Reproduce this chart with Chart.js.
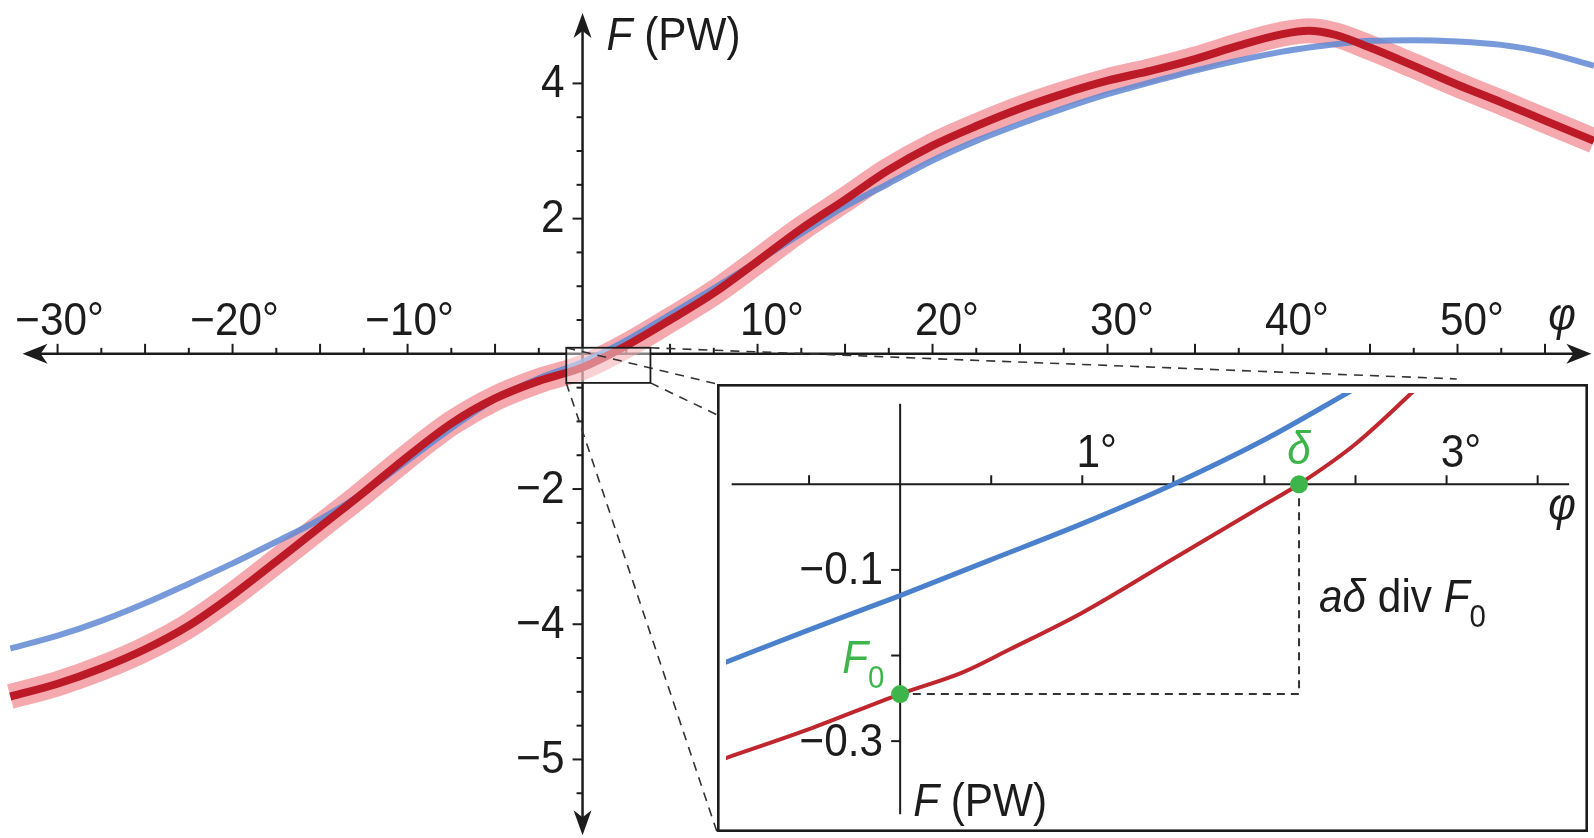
<!DOCTYPE html>
<html>
<head>
<meta charset="utf-8">
<script src="https://cdn.jsdelivr.net/npm/chart.js@4.4.1/dist/chart.umd.min.js"></script>
<style>
    html, body { margin: 0; padding: 0; background: #fff; overflow: hidden; }
    #main { position: absolute; left: 0; top: 0; width: 1594px; height: 838px; }
    #inset { position: absolute; left: 717px; top: 384px; width: 871px; height: 448px; }
</style>
</head>
<body>
<div id="main"><canvas id="main-chart" width="1594" height="838"></canvas></div>
<div id="inset"><canvas id="inset-chart" width="871" height="448"></canvas></div>
<script>
// Main panel: phi (degrees) vs F (PW)
const mainPhi = [-32.7, -30, -27.5, -25, -22.5, -20, -17.5, -15, -12.5, -10, -7.5, -5, -2.5, 0,
    2.5, 5, 7.5, 10, 12.5, 15, 17.5, 20, 22.5, 25, 27.5, 30, 32.5, 35, 37.5, 40, 41.5, 43,
    45, 47.5, 50, 52.5, 55, 57.8];
const redMain = [-5.07, -4.88, -4.65, -4.37, -4.02, -3.57, -3.07, -2.56, -2.05, -1.52, -1.03, -0.66, -0.40, -0.20,
    0.12, 0.50, 0.90, 1.37, 1.85, 2.28, 2.72, 3.08, 3.37, 3.63, 3.85, 4.04, 4.19, 4.36, 4.56, 4.73, 4.78, 4.72,
    4.53, 4.26, 3.98, 3.72, 3.45, 3.15];
const blueMain = [-4.36, -4.17, -3.95, -3.69, -3.40, -3.10, -2.78, -2.45, -2.05, -1.58, -1.10, -0.67, -0.36, -0.12,
    0.20, 0.58, 0.97, 1.37, 1.78, 2.18, 2.52, 2.86, 3.15, 3.40, 3.63, 3.84, 4.02, 4.19, 4.34, 4.47, 4.53, 4.58,
    4.63, 4.64, 4.62, 4.57, 4.46, 4.26];

const mainXLabels = [-30, -20, -10, 10, 20, 30, 40, 50];
const mainYLabelValues = [4, 2, -2, -4, -6];
const mainYLabelTexts = ['4', '2', '\u22122', '\u22124', '\u22125'];
const zoomBoxPhi = [-0.93, 3.88];
const zoomBoxF = [0.09, -0.43];

// Inset panel
const insetBluePhi = [-0.96, -0.5, 0, 0.5, 1.0, 1.5, 2.0, 2.5];
const insetBlue = [-0.208, -0.170, -0.130, -0.088, -0.046, 0.0, 0.052, 0.112];
const insetRedPhi = [-0.96, -0.5, 0, 0.35, 0.6, 1.0, 1.5, 2.0, 2.19, 2.5, 2.9];
const insetRed = [-0.320, -0.286, -0.245, -0.219, -0.193, -0.150, -0.087, -0.024, 0.0, 0.047, 0.125];
const markerPhi = [0, 2.19];
const markerF = [-0.245, 0];
const guidePhi = [2.19, 2.19, 0];
const guideF = [0, -0.245, -0.245];
const insetXLabels = [1, 3];
const insetYLabels = [-0.1, -0.3];

const FONT = '"Liberation Sans", Arial, Helvetica, sans-serif';
const FS = 46;     // font size
const HS = 0.92;   // horizontal squeeze of the lettering
const INK = '#1c1c1c';
const GREEN = '#3db54a';

function font(size, italic) {
    return (italic ? 'italic ' : '') + size + 'px ' + FONT;
}

function toPoints(xs, ys) {
    return xs.map((x, i) => ({ x: x, y: ys[i] }));
}

function textW(ctx, t) {
    return ctx.measureText(t).width * HS;
}

// fillText with the narrow lettering of the original
function fillT(ctx, t, x, y, align) {
    const w = textW(ctx, t);
    let sx = x;
    if (align === 'right') sx = x - w;
    else if (align === 'center') sx = x - w / 2;
    ctx.save();
    ctx.translate(sx, y);
    ctx.scale(HS, 1);
    ctx.textAlign = 'left';
    ctx.textBaseline = 'alphabetic';
    ctx.fillText(t, 0, 0);
    ctx.restore();
}

// Draw a sequence of text runs (mixed italic / subscript)
function drawRuns(ctx, x, y, runs, color) {
    ctx.fillStyle = color;
    let cx = x;
    runs.forEach(r => {
        ctx.font = font(r.size || FS, r.italic);
        fillT(ctx, r.t, cx, y + (r.dy || 0), 'left');
        cx += textW(ctx, r.t);
    });
}

// Degree label, digits placed just right of the tick
function drawDegLabel(ctx, px, baseY, v) {
    ctx.font = font(FS);
    ctx.fillStyle = INK;
    const digits = String(Math.abs(v));
    const start = px + 6 - textW(ctx, digits) / 2;
    if (v < 0) fillT(ctx, '\u2212', start, baseY, 'right');
    fillT(ctx, digits + '\u00b0', start, baseY, 'left');
}

function arrowHead(ctx, tipX, tipY, dx, dy, len, half) {
    const bx = tipX - dx * len, by = tipY - dy * len;
    const nx = -dy, ny = dx;
    ctx.beginPath();
    ctx.moveTo(tipX, tipY);
    ctx.lineTo(bx + nx * half, by + ny * half);
    ctx.lineTo(tipX - dx * len * 0.72, tipY - dy * len * 0.72);
    ctx.lineTo(bx - nx * half, by - ny * half);
    ctx.closePath();
    ctx.fill();
}

function line(ctx, x1, y1, x2, y2) {
    ctx.beginPath();
    ctx.moveTo(x1, y1);
    ctx.lineTo(x2, y2);
    ctx.stroke();
}

// Axes, ticks and labels of the main panel
const mainAxesPlugin = {
    id: 'mainAxes',
    beforeDatasetsDraw(chart) {
        const { ctx, scales: { x, y } } = chart;
        const x0 = x.getPixelForValue(0), y0 = y.getPixelForValue(0);
        const left = x.getPixelForValue(-32.0), right = x.getPixelForValue(57.65);
        const top = y.getPixelForValue(5.04), bottom = y.getPixelForValue(-7.12);
        ctx.save();
        ctx.strokeStyle = INK;
        ctx.fillStyle = INK;
        ctx.lineWidth = 2.5;
        line(ctx, left + 6, y0, right - 6, y0);
        line(ctx, x0, top + 6, x0, bottom - 6);
        arrowHead(ctx, left, y0, -1, 0, 25, 10);
        arrowHead(ctx, right, y0, 1, 0, 25, 10);
        arrowHead(ctx, x0, top, 0, -1, 25, 9);
        arrowHead(ctx, x0, bottom, 0, 1, 25, 9);

        ctx.lineWidth = 2;
        for (let v = -30; v <= 55; v += 2.5) {
            if (v === 0) continue;
            const px = x.getPixelForValue(v);
            const len = (v % 5 === 0) ? 10 : 6;
            line(ctx, px, y0, px, y0 - len);
        }
        for (let v = -6.5; v <= 4; v += 0.5) {
            if (v === 0) continue;
            const py = y.getPixelForValue(v);
            const len = mainYLabelValues.includes(v) ? 10 : 6;
            line(ctx, x0, py, x0 - len, py);
        }

        mainXLabels.forEach(v => drawDegLabel(ctx, x.getPixelForValue(v), y0 - 19, v));

        ctx.font = font(FS);
        mainYLabelValues.forEach((v, i) => {
            fillT(ctx, mainYLabelTexts[i], x0 - 18, y.getPixelForValue(v) + 13.5, 'right');
        });

        drawRuns(ctx, x0 + 24, 50, [{ t: 'F', italic: true }, { t: ' (PW)' }], INK);
        ctx.font = font(FS, true);
        fillT(ctx, '\u03c6', 1562, y0 - 24, 'center');
        ctx.restore();
    },
    afterDatasetsDraw(chart) {
        const { ctx, scales: { x, y } } = chart;
        const bl = x.getPixelForValue(zoomBoxPhi[0]), br = x.getPixelForValue(zoomBoxPhi[1]);
        const bt = y.getPixelForValue(zoomBoxF[0]), bb = y.getPixelForValue(zoomBoxF[1]);
        const inset = document.getElementById('inset');
        const il = inset.offsetLeft, it = inset.offsetTop;
        const ir = il + inset.offsetWidth, ib = it + inset.offsetHeight;
        ctx.save();
        ctx.fillStyle = 'rgba(255,255,255,0.45)';
        ctx.fillRect(bl, bt, br - bl, bb - bt);
        ctx.strokeStyle = '#333';
        ctx.lineWidth = 1.6;
        ctx.setLineDash([9, 7]);
        line(ctx, bl, bt, il, it);
        line(ctx, br, bt, br + (ir - br) * 0.86, bt + (it - bt) * 0.86);
        line(ctx, br, bb, ir, ib);
        line(ctx, bl, bb, il, ib);
        ctx.setLineDash([]);
        ctx.strokeStyle = INK;
        ctx.lineWidth = 1.8;
        ctx.strokeRect(bl, bt, br - bl, bb - bt);
        ctx.restore();
    }
};

// Axes, frame and annotations of the inset panel
const insetAxesPlugin = {
    id: 'insetAxes',
    beforeDraw(chart) {
        const ctx = chart.ctx;
        ctx.save();
        ctx.fillStyle = '#fff';
        ctx.fillRect(0, 0, chart.width, chart.height);
        ctx.restore();
    },
    beforeDatasetsDraw(chart) {
        const { ctx, scales: { x, y } } = chart;
        const x0 = x.getPixelForValue(0), y0 = y.getPixelForValue(0);
        ctx.save();
        ctx.strokeStyle = INK;
        ctx.fillStyle = INK;
        ctx.lineWidth = 2;
        line(ctx, x.getPixelForValue(-0.925), y0, x.getPixelForValue(3.673), y0);
        line(ctx, x0, y.getPixelForValue(0.094), x0, y.getPixelForValue(-0.3855));
        for (let v = -0.5; v <= 3.5; v += 0.5) {
            if (v === 0) continue;
            const px = x.getPixelForValue(v);
            line(ctx, px, y0, px, y0 - 9);
        }
        [-0.1, -0.2, -0.3].forEach(v => {
            const py = y.getPixelForValue(v);
            line(ctx, x0, py, x0 - 9, py);
        });
        insetXLabels.forEach(v => drawDegLabel(ctx, x.getPixelForValue(v), y0 - 17, v));
        ctx.font = font(FS);
        ctx.fillStyle = INK;
        insetYLabels.forEach(v => {
            fillT(ctx, '\u2212' + Math.abs(v).toFixed(1), x0 - 17, y.getPixelForValue(v) + 14.5, 'right');
        });
        drawRuns(ctx, x0 + 13, 432, [{ t: 'F', italic: true }, { t: ' (PW)' }], INK);
        ctx.font = font(FS, true);
        fillT(ctx, '\u03c6', chart.width - 26, y0 + 36, 'center');
        ctx.restore();
    },
    afterDraw(chart) {
        const { ctx, scales: { x, y } } = chart;
        const dx = x.getPixelForValue(markerPhi[1]);
        const d0 = y.getPixelForValue(markerF[1]);
        const fx = x.getPixelForValue(markerPhi[0]);
        const fy = y.getPixelForValue(markerF[0]);
        ctx.save();
        // delta and F0 labels
        ctx.fillStyle = GREEN;
        ctx.font = font(FS, true);
        fillT(ctx, '\u03b4', dx, d0 - 20, 'center');
        drawRuns(ctx, fx - 58, fy - 21, [{ t: 'F', italic: true }, { t: '0', size: 32, dy: 15 }], GREEN);
        drawRuns(ctx, dx + 20, (d0 + fy) / 2 + 23, [
            { t: 'a\u03b4', italic: true }, { t: ' div ' }, { t: 'F', italic: true }, { t: '0', size: 32, dy: 15 }
        ], INK);
        // frame
        ctx.strokeStyle = INK;
        ctx.lineWidth = 2.6;
        ctx.strokeRect(1.3, 1.3, chart.width - 2.6, chart.height - 2.6);
        ctx.restore();
    }
};

const mainChart = new Chart(document.getElementById('main-chart').getContext('2d'), {
    type: 'line',
    data: {
        datasets: [
            {
                label: 'F (red)',
                data: toPoints(mainPhi, redMain),
                borderColor: '#bd1a28',
                borderWidth: 8,
                order: 1
            },
            {
                label: 'F (blue)',
                data: toPoints(mainPhi, blueMain),
                borderColor: 'rgba(96, 136, 212, 0.85)',
                borderWidth: 6,
                order: 2
            },
            {
                label: 'F (red band)',
                data: toPoints(mainPhi, redMain),
                borderColor: 'rgba(236, 84, 96, 0.5)',
                borderWidth: 25,
                order: 3
            }
        ]
    },
    options: {
        responsive: false,
        animation: false,
        layout: { padding: 0 },
        elements: {
            point: { radius: 0 },
            line: { cubicInterpolationMode: 'monotone', borderCapStyle: 'butt', borderJoinStyle: 'round', fill: false }
        },
        scales: {
            x: { type: 'linear', min: -33.29, max: 57.8, display: false },
            y: { type: 'linear', min: -7.162, max: 5.234, display: false }
        },
        plugins: { legend: { display: false }, tooltip: { enabled: false } }
    },
    plugins: [mainAxesPlugin]
});

const insetChart = new Chart(document.getElementById('inset-chart').getContext('2d'), {
    type: 'line',
    data: {
        datasets: [
            {
                label: 'markers',
                data: toPoints(markerPhi, markerF),
                showLine: false,
                pointRadius: 9,
                pointBackgroundColor: GREEN,
                pointBorderWidth: 0,
                order: 0
            },
            {
                label: 'red',
                data: toPoints(insetRedPhi, insetRed),
                borderColor: '#c0262d',
                borderWidth: 4,
                order: 1
            },
            {
                label: 'blue',
                data: toPoints(insetBluePhi, insetBlue),
                borderColor: '#4a80cc',
                borderWidth: 5,
                order: 2
            },
            {
                label: 'guide',
                data: toPoints(guidePhi, guideF),
                borderColor: '#333',
                borderWidth: 2,
                borderDash: [8, 6],
                cubicInterpolationMode: 'default',
                tension: 0,
                order: 3
            }
        ]
    },
    options: {
        responsive: false,
        animation: false,
        layout: { padding: 0 },
        elements: {
            point: { radius: 0 },
            line: { cubicInterpolationMode: 'monotone', borderCapStyle: 'butt', fill: false }
        },
        scales: {
            x: { type: 'linear', min: -0.956, max: 3.727, display: false },
            y: { type: 'linear', min: -0.3956, max: 0.1066, display: false }
        },
        plugins: { legend: { display: false }, tooltip: { enabled: false } }
    },
    plugins: [insetAxesPlugin]
});
</script>
</body>
</html>
